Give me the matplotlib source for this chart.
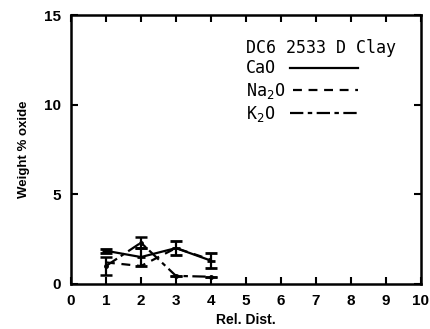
import matplotlib
matplotlib.use("Agg")
import matplotlib.pyplot as plt

dist = [1, 2, 3, 4]
cao = [1.85, 1.5, 2.0, 1.3]
cao_err = [0.12, 0.5, 0.4, 0.4]
na2o = [1.2, 1.0, 2.0, 1.35]
k2o = [1.0, 2.3, 0.45, 0.4]
k2o_err = [0.5, 0.3, 0.0, 0.0]

xticks = list(range(0, 11))
yticks = [0, 5, 10, 15]

fig = plt.figure(figsize=(4.30, 3.29), dpi=100)
ax = fig.add_axes([0.165, 0.137, 0.814, 0.817])

lw = 1.6
ax.errorbar(dist, cao, yerr=cao_err, color='black', lw=lw, ls='-',
            capsize=4, capthick=1.8, elinewidth=1.6, marker='_', ms=6, mew=2)
ax.plot(dist, na2o, color='black', lw=lw, ls=(0, (4, 3)))
ax.errorbar(dist, k2o, yerr=k2o_err, color='black', lw=lw, ls=(0, (6, 2, 2, 2)),
            capsize=4, capthick=1.8, elinewidth=1.6, marker='o', ms=2.5)

ax.set_xlim(0, 10)
ax.set_ylim(0, 15)
ax.set_xticks(xticks)
ax.set_yticks(yticks)
ax.tick_params(direction='in', top=True, right=True, length=5, width=1.5,
               labelsize=11, pad=7)
for lab in ax.get_xticklabels() + ax.get_yticklabels():
    lab.set_fontweight('bold')
    lab.set_family('Liberation Sans')
for s in ax.spines.values():
    s.set_linewidth(1.8)

ax.set_xlabel('Rel. Dist.', fontsize=10, fontweight='bold', family='Liberation Sans', labelpad=4)
ax.set_ylabel('Weight % oxide', fontsize=9.5, fontweight='bold', family='Liberation Sans', labelpad=10)

mono = dict(family='DejaVu Sans Mono', fontsize=12, color='black')
ax.text(5.0, 12.9, 'DC6 2533 D Clay', ha='left', va='baseline', **mono)
ax.text(5.0, 11.75, 'CaO', ha='left', va='baseline', **mono)
ax.text(5.0, 10.5, 'Na$_2$O', ha='left', va='baseline', **mono)
ax.text(5.0, 9.2, 'K$_2$O', ha='left', va='baseline', **mono)
ax.plot([6.25, 8.2], [12.05, 12.05], color='black', lw=lw, ls='-')
ax.plot([6.35, 8.2], [10.85, 10.85], color='black', lw=lw, ls=(0, (4, 3)))
ax.plot([6.25, 8.2], [9.55, 9.55], color='black', lw=lw, ls=(0, (6, 2, 2, 2)))

fig.savefig('out.png', dpi=100)
